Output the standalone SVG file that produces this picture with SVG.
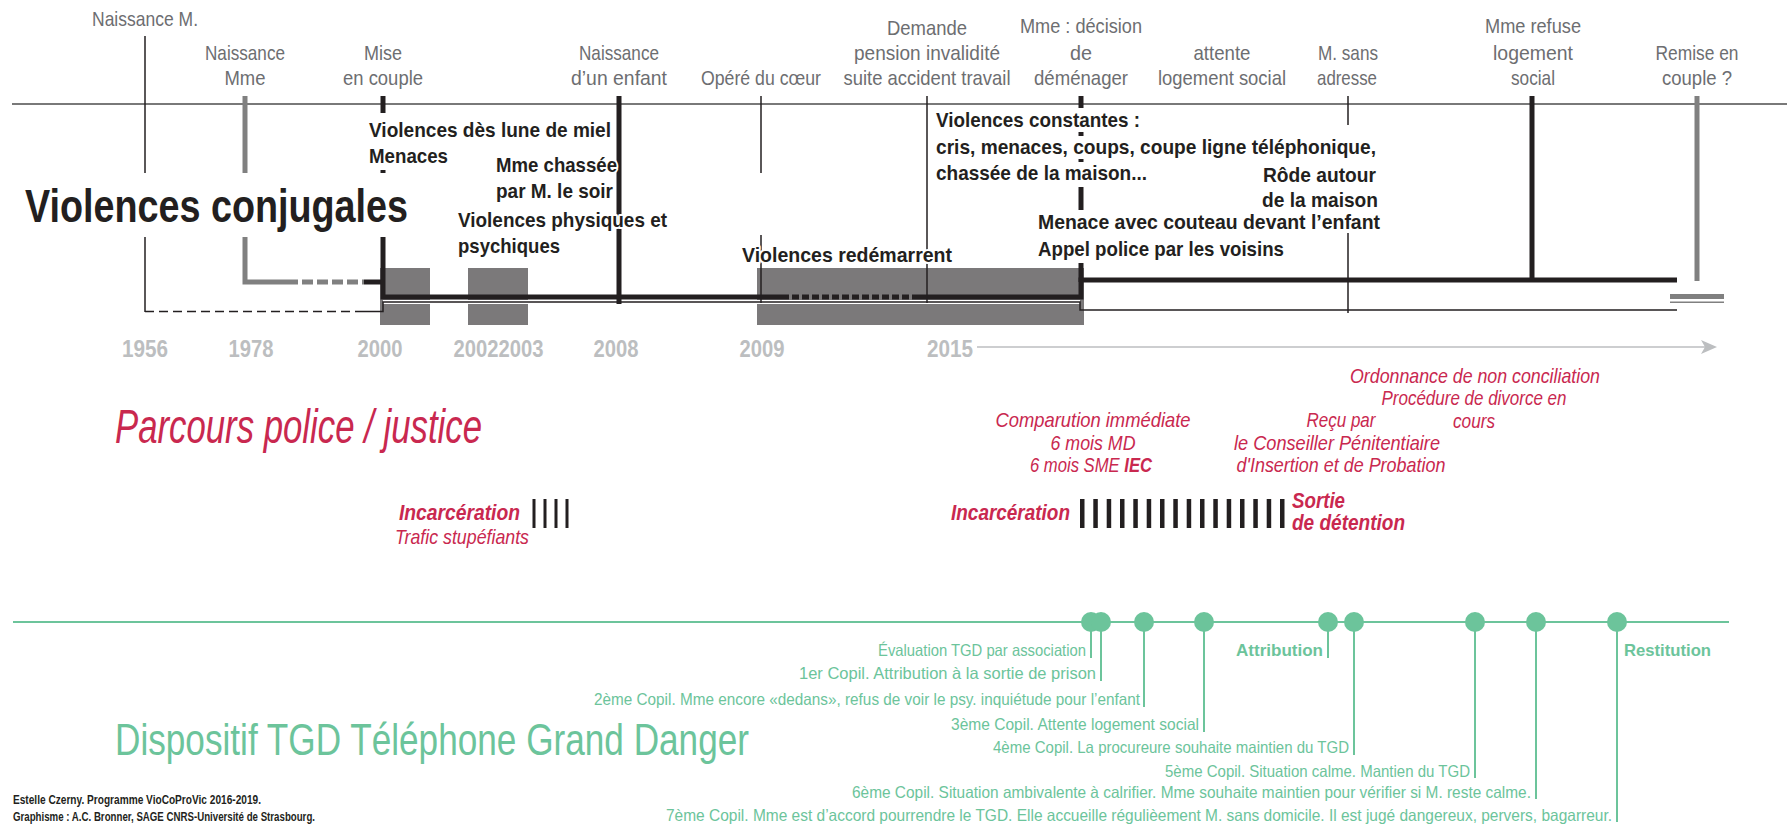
<svg xmlns="http://www.w3.org/2000/svg" width="1787" height="828" viewBox="0 0 1787 828">
<defs>
<style>
text{font-family:"Liberation Sans",Arial,sans-serif}
.gl{font-size:21px;fill:#6d6e71;text-anchor:middle}
.bl{font-size:21px;font-weight:bold;fill:#231f20;stroke:#fff;stroke-width:4;paint-order:stroke;stroke-linejoin:round}
.yr{font-size:23px;font-weight:bold;fill:#bcbec0;text-anchor:middle}
.rd{font-size:21px;font-style:italic;fill:#c9284f;text-anchor:middle}
.rb{font-size:22px;font-style:italic;font-weight:bold;fill:#c9284f}
.tg{font-size:16.5px;fill:#6cc49b;text-anchor:end}
.tb{font-size:16.5px;font-weight:bold;fill:#6cc49b}
.thin{stroke:#231f20;stroke-width:1.5;fill:none}
.thick{stroke:#231f20;stroke-width:5;fill:none}
.gray{stroke:#808080;stroke-width:5;fill:none}
.box{fill:#7b797a}
.grn{stroke:#6cc49b;stroke-width:2;fill:none}
.dot{fill:#6cc49b}
.bar{fill:#231f20}
.cr{font-size:12.5px;font-weight:bold;fill:#231f20}
</style>
</defs>
<rect width="1787" height="828" fill="#fff"/>

<g id="periods">
<rect class="box" x="380" y="268" width="50" height="57"/>
<rect class="box" x="468" y="268" width="60" height="57"/>
<rect class="box" x="757" y="268" width="327" height="57"/>
</g>

<g id="connectors">
<line x1="12" y1="104" x2="1787" y2="104" stroke="#4d4d4d" stroke-width="1.5"/>
<line class="thin" x1="145" y1="36" x2="145" y2="173"/>
<line class="thin" x1="145" y1="237" x2="145" y2="312"/>
<line class="thin" x1="145" y1="311.5" x2="364" y2="311.5" stroke-dasharray="9 5"/>
<path d="M383,302 H1080" stroke="#fff" stroke-width="4" fill="none"/>
<path class="thin" d="M364,311.5 H383 V302 H1080 V310 H1677"/>
<line class="gray" x1="245" y1="96" x2="245" y2="173"/>
<path class="gray" d="M245,237 V282 H287" stroke-linejoin="miter"/>
<line class="gray" x1="287" y1="282" x2="364" y2="282" stroke-dasharray="11 4"/>
<line class="thick" x1="364" y1="282" x2="385" y2="282"/>
<line class="thick" x1="383" y1="96" x2="383" y2="113"/>
<line class="thick" x1="383" y1="170" x2="383" y2="173"/>
<path class="thick" d="M383,237 V297 H782"/>
<line class="thick" x1="782" y1="297" x2="917" y2="297" stroke-dasharray="7 3"/>
<path class="thick" d="M917,297 H1081 V280 H1677"/>
<line class="thick" x1="619" y1="96" x2="619" y2="304"/>
<line class="thin" x1="761" y1="96" x2="761" y2="173"/>
<line class="thin" x1="761" y1="235" x2="761" y2="303"/>
<line class="thin" x1="927" y1="96" x2="927" y2="303"/>
<line class="thick" x1="1081" y1="96" x2="1081" y2="108"/>
<line class="thick" x1="1081" y1="132" x2="1081" y2="136"/>
<line class="thick" x1="1081" y1="159" x2="1081" y2="162"/>
<line class="thick" x1="1081" y1="187" x2="1081" y2="210"/>
<line class="thick" x1="1081" y1="263" x2="1081" y2="282"/>
<line class="thin" x1="1348" y1="96" x2="1348" y2="125"/>
<line class="thin" x1="1348" y1="233" x2="1348" y2="313"/>
<line class="thick" x1="1532" y1="96" x2="1532" y2="280"/>
<line class="gray" x1="1697" y1="96" x2="1697" y2="281"/>
<line class="gray" x1="1670" y1="296.5" x2="1724" y2="296.5"/>
<line x1="1670" y1="302.3" x2="1724" y2="302.3" stroke="#808080" stroke-width="1.5"/>
<line x1="977" y1="347" x2="1708" y2="347" stroke="#bcbec0" stroke-width="1.5"/>
<polygon points="1701,340 1717,347 1701,354 1705,347" fill="#bcbec0"/>
<line x1="13" y1="622" x2="1729" y2="622" stroke="#6cc49b" stroke-width="2"/>
<line class="grn" x1="1091" y1="622" x2="1091" y2="658"/>
<line class="grn" x1="1101" y1="622" x2="1101" y2="681"/>
<line class="grn" x1="1144" y1="622" x2="1144" y2="707"/>
<line class="grn" x1="1204" y1="622" x2="1204" y2="732"/>
<line class="grn" x1="1328" y1="622" x2="1328" y2="658"/>
<line class="grn" x1="1354" y1="622" x2="1354" y2="755"/>
<line class="grn" x1="1475" y1="622" x2="1475" y2="778"/>
<line class="grn" x1="1536" y1="622" x2="1536" y2="799"/>
<line class="grn" x1="1617" y1="622" x2="1617" y2="822"/>
</g>

<g id="title-violences">
<text x="25" y="222" font-size="46" font-weight="bold" fill="#231f20" textLength="383" lengthAdjust="spacingAndGlyphs">Violences conjugales</text>
</g>

<g id="ev-naissance-m">
<text class="gl" x="145" y="26" textLength="106" lengthAdjust="spacingAndGlyphs">Naissance M.</text>
<text class="yr" x="145" y="357" textLength="46" lengthAdjust="spacingAndGlyphs">1956</text>
</g>
<g id="ev-naissance-mme">
<text class="gl" x="245" y="60" textLength="80" lengthAdjust="spacingAndGlyphs">Naissance</text>
<text class="gl" x="245" y="85" textLength="41" lengthAdjust="spacingAndGlyphs">Mme</text>
<text class="yr" x="251" y="357" textLength="45" lengthAdjust="spacingAndGlyphs">1978</text>
</g>
<g id="ev-mise-en-couple">
<text class="gl" x="383" y="60" textLength="38" lengthAdjust="spacingAndGlyphs">Mise</text>
<text class="gl" x="383" y="85" textLength="80" lengthAdjust="spacingAndGlyphs">en couple</text>
<text class="yr" x="380" y="357" textLength="45" lengthAdjust="spacingAndGlyphs">2000</text>
<text class="bl" x="369" y="137" textLength="242" lengthAdjust="spacingAndGlyphs">Violences dès lune de miel</text>
<text class="bl" x="369" y="163" textLength="79" lengthAdjust="spacingAndGlyphs">Menaces</text>
</g>
<g id="ev-2002">
<text class="yr" x="476" y="357" textLength="45" lengthAdjust="spacingAndGlyphs">2002</text>
<text class="yr" x="521" y="357" textLength="45" lengthAdjust="spacingAndGlyphs">2003</text>
<text class="bl" x="496" y="172" textLength="121" lengthAdjust="spacingAndGlyphs">Mme chassée</text>
<text class="bl" x="496" y="198" textLength="117" lengthAdjust="spacingAndGlyphs">par M. le soir</text>
<text class="bl" x="458" y="227" textLength="209" lengthAdjust="spacingAndGlyphs">Violences physiques et</text>
<text class="bl" x="458" y="253" textLength="102" lengthAdjust="spacingAndGlyphs">psychiques</text>
</g>
<g id="ev-enfant">
<text class="gl" x="619" y="60" textLength="80" lengthAdjust="spacingAndGlyphs">Naissance</text>
<text class="gl" x="619" y="85" textLength="96" lengthAdjust="spacingAndGlyphs">d’un enfant</text>
<text class="yr" x="616" y="357" textLength="45" lengthAdjust="spacingAndGlyphs">2008</text>
</g>
<g id="ev-coeur">
<text class="gl" x="761" y="85" textLength="120" lengthAdjust="spacingAndGlyphs">Opéré du cœur</text>
<text class="yr" x="762" y="357" textLength="45" lengthAdjust="spacingAndGlyphs">2009</text>
<text class="bl" x="742" y="262" textLength="210" lengthAdjust="spacingAndGlyphs">Violences redémarrent</text>
</g>
<g id="ev-demande">
<text class="gl" x="927" y="35" textLength="80" lengthAdjust="spacingAndGlyphs">Demande</text>
<text class="gl" x="927" y="60" textLength="146" lengthAdjust="spacingAndGlyphs">pension invalidité</text>
<text class="gl" x="927" y="85" textLength="167" lengthAdjust="spacingAndGlyphs">suite accident travail</text>
<text class="yr" x="950" y="357" textLength="46" lengthAdjust="spacingAndGlyphs">2015</text>
</g>
<g id="ev-demenager">
<text class="gl" x="1081" y="33" textLength="122" lengthAdjust="spacingAndGlyphs">Mme : décision</text>
<text class="gl" x="1081" y="60" textLength="22" lengthAdjust="spacingAndGlyphs">de</text>
<text class="gl" x="1081" y="85" textLength="94" lengthAdjust="spacingAndGlyphs">déménager</text>
<text class="bl" x="936" y="127" textLength="204" lengthAdjust="spacingAndGlyphs">Violences constantes :</text>
<text class="bl" x="936" y="154" textLength="440" lengthAdjust="spacingAndGlyphs">cris, menaces, coups, coupe ligne téléphonique,</text>
<text class="bl" x="936" y="180" textLength="211" lengthAdjust="spacingAndGlyphs">chassée de la maison...</text>
<text class="bl" x="1038" y="229" textLength="342" lengthAdjust="spacingAndGlyphs">Menace avec couteau devant l’enfant</text>
<text class="bl" x="1038" y="256" textLength="246" lengthAdjust="spacingAndGlyphs">Appel police par les voisins</text>
</g>
<g id="ev-attente">
<text class="gl" x="1222" y="60" textLength="57" lengthAdjust="spacingAndGlyphs">attente</text>
<text class="gl" x="1222" y="85" textLength="128" lengthAdjust="spacingAndGlyphs">logement social</text>
</g>
<g id="ev-sans-adresse">
<text class="gl" x="1348" y="60" textLength="60" lengthAdjust="spacingAndGlyphs">M. sans</text>
<text class="gl" x="1347" y="85" textLength="60" lengthAdjust="spacingAndGlyphs">adresse</text>
<text class="bl" x="1376" y="182" text-anchor="end" textLength="113" lengthAdjust="spacingAndGlyphs">Rôde autour</text>
<text class="bl" x="1378" y="207" text-anchor="end" textLength="116" lengthAdjust="spacingAndGlyphs">de la maison</text>
</g>
<g id="ev-refuse">
<text class="gl" x="1533" y="33" textLength="96" lengthAdjust="spacingAndGlyphs">Mme refuse</text>
<text class="gl" x="1533" y="60" textLength="80" lengthAdjust="spacingAndGlyphs">logement</text>
<text class="gl" x="1533" y="85" textLength="44" lengthAdjust="spacingAndGlyphs">social</text>
</g>
<g id="ev-remise">
<text class="gl" x="1697" y="60" textLength="83" lengthAdjust="spacingAndGlyphs">Remise en</text>
<text class="gl" x="1697" y="85" textLength="70" lengthAdjust="spacingAndGlyphs">couple  ?</text>
</g>

<g id="title-police">
<text x="115" y="443" font-size="48" font-style="italic" fill="#c9284f" textLength="367" lengthAdjust="spacingAndGlyphs">Parcours police / justice</text>
</g>
<g id="pj-incarceration-1">
<text class="rb" x="399" y="520" textLength="121" lengthAdjust="spacingAndGlyphs">Incarcération</text>
<text class="rd" x="462" y="544" textLength="134" lengthAdjust="spacingAndGlyphs">Trafic stupéfiants</text>
<rect class="bar" x="532.5" y="499" width="3" height="29"/>
<rect class="bar" x="543.5" y="499" width="3" height="29"/>
<rect class="bar" x="554.5" y="499" width="3" height="29"/>
<rect class="bar" x="565.5" y="499" width="3" height="29"/>
</g>
<g id="pj-comparution">
<text class="rd" x="1093" y="427" textLength="195" lengthAdjust="spacingAndGlyphs">Comparution immédiate</text>
<text class="rd" x="1093" y="450" textLength="85" lengthAdjust="spacingAndGlyphs">6 mois MD</text>
<text class="rd" x="1091" y="472" textLength="122" lengthAdjust="spacingAndGlyphs">6 mois SME <tspan font-weight="bold">IEC</tspan></text>
</g>
<g id="pj-incarceration-2">
<text class="rb" x="951" y="520" textLength="119" lengthAdjust="spacingAndGlyphs">Incarcération</text>
<g class="bar">
<rect x="1080" y="499" width="4.5" height="29"/>
<rect x="1093.3" y="499" width="4.5" height="29"/>
<rect x="1106.7" y="499" width="4.5" height="29"/>
<rect x="1120" y="499" width="4.5" height="29"/>
<rect x="1133.3" y="499" width="4.5" height="29"/>
<rect x="1146.7" y="499" width="4.5" height="29"/>
<rect x="1160" y="499" width="4.5" height="29"/>
<rect x="1173.3" y="499" width="4.5" height="29"/>
<rect x="1186.7" y="499" width="4.5" height="29"/>
<rect x="1200" y="499" width="4.5" height="29"/>
<rect x="1213.3" y="499" width="4.5" height="29"/>
<rect x="1226.7" y="499" width="4.5" height="29"/>
<rect x="1240" y="499" width="4.5" height="29"/>
<rect x="1253.3" y="499" width="4.5" height="29"/>
<rect x="1266.7" y="499" width="4.5" height="29"/>
<rect x="1280" y="499" width="4.5" height="29"/>
</g>
<text class="rb" x="1292" y="508" textLength="53" lengthAdjust="spacingAndGlyphs">Sortie</text>
<text class="rb" x="1292" y="530" textLength="113" lengthAdjust="spacingAndGlyphs">de détention</text>
</g>
<g id="pj-spip">
<text class="rd" x="1341" y="427" textLength="69" lengthAdjust="spacingAndGlyphs">Reçu par</text>
<text class="rd" x="1337" y="450" textLength="206" lengthAdjust="spacingAndGlyphs">le Conseiller Pénitentiaire</text>
<text class="rd" x="1341" y="472" textLength="209" lengthAdjust="spacingAndGlyphs">d'Insertion et de Probation</text>
</g>
<g id="pj-divorce">
<text class="rd" x="1475" y="383" textLength="250" lengthAdjust="spacingAndGlyphs">Ordonnance de non conciliation</text>
<text class="rd" x="1474" y="405" textLength="185" lengthAdjust="spacingAndGlyphs">Procédure de divorce en</text>
<text class="rd" x="1474" y="428" textLength="42" lengthAdjust="spacingAndGlyphs">cours</text>
</g>

<g id="title-tgd">
<text x="115" y="755" font-size="44" fill="#6cc49b" textLength="634" lengthAdjust="spacingAndGlyphs">Dispositif TGD Téléphone Grand Danger</text>
</g>
<g id="tgd-evaluation">
<circle class="dot" cx="1091" cy="622" r="10"/>
<text class="tg" x="1086" y="656" textLength="208" lengthAdjust="spacingAndGlyphs">Évaluation TGD par association</text>
</g>
<g id="tgd-copil1">
<circle class="dot" cx="1101" cy="622" r="10"/>
<text class="tg" x="1096" y="679" textLength="297" lengthAdjust="spacingAndGlyphs">1er Copil. Attribution à la sortie de prison</text>
</g>
<g id="tgd-copil2">
<circle class="dot" cx="1144" cy="622" r="10"/>
<text class="tg" x="1140" y="705" textLength="546" lengthAdjust="spacingAndGlyphs">2ème Copil. Mme encore «dedans», refus de voir le psy. inquiétude pour l’enfant</text>
</g>
<g id="tgd-copil3">
<circle class="dot" cx="1204" cy="622" r="10"/>
<text class="tg" x="1199" y="730" textLength="248" lengthAdjust="spacingAndGlyphs">3ème Copil. Attente logement social</text>
</g>
<g id="tgd-attribution">
<circle class="dot" cx="1328" cy="622" r="10"/>
<text class="tg" x="1323" y="656" font-weight="bold" textLength="87" lengthAdjust="spacingAndGlyphs">Attribution</text>
</g>
<g id="tgd-copil4">
<circle class="dot" cx="1354" cy="622" r="10"/>
<text class="tg" x="1349" y="753" textLength="356" lengthAdjust="spacingAndGlyphs">4ème Copil. La procureure souhaite maintien du TGD</text>
</g>
<g id="tgd-copil5">
<circle class="dot" cx="1475" cy="622" r="10"/>
<text class="tg" x="1470" y="777" textLength="305" lengthAdjust="spacingAndGlyphs">5ème Copil. Situation calme. Mantien du TGD</text>
</g>
<g id="tgd-copil6">
<circle class="dot" cx="1536" cy="622" r="10"/>
<text class="tg" x="1531" y="798" textLength="679" lengthAdjust="spacingAndGlyphs">6ème Copil. Situation ambivalente à calrifier. Mme souhaite maintien pour vérifier si M. reste calme.</text>
</g>
<g id="tgd-copil7">
<circle class="dot" cx="1617" cy="622" r="10"/>
<text class="tg" x="1612" y="821" textLength="946" lengthAdjust="spacingAndGlyphs">7ème Copil. Mme est d’accord pourrendre le TGD. Elle accueille régulièement M. sans domicile. Il est jugé dangereux, pervers, bagarreur.</text>
<text class="tb" x="1624" y="656" textLength="87" lengthAdjust="spacingAndGlyphs">Restitution</text>
</g>

<g id="credits">
<text class="cr" x="13" y="804" textLength="248" lengthAdjust="spacingAndGlyphs">Estelle Czerny. Programme VioCoProVic 2016-2019.</text>
<text class="cr" x="13" y="821" textLength="302" lengthAdjust="spacingAndGlyphs">Graphisme : A.C. Bronner, SAGE CNRS-Université de Strasbourg.</text>
</g>
</svg>
